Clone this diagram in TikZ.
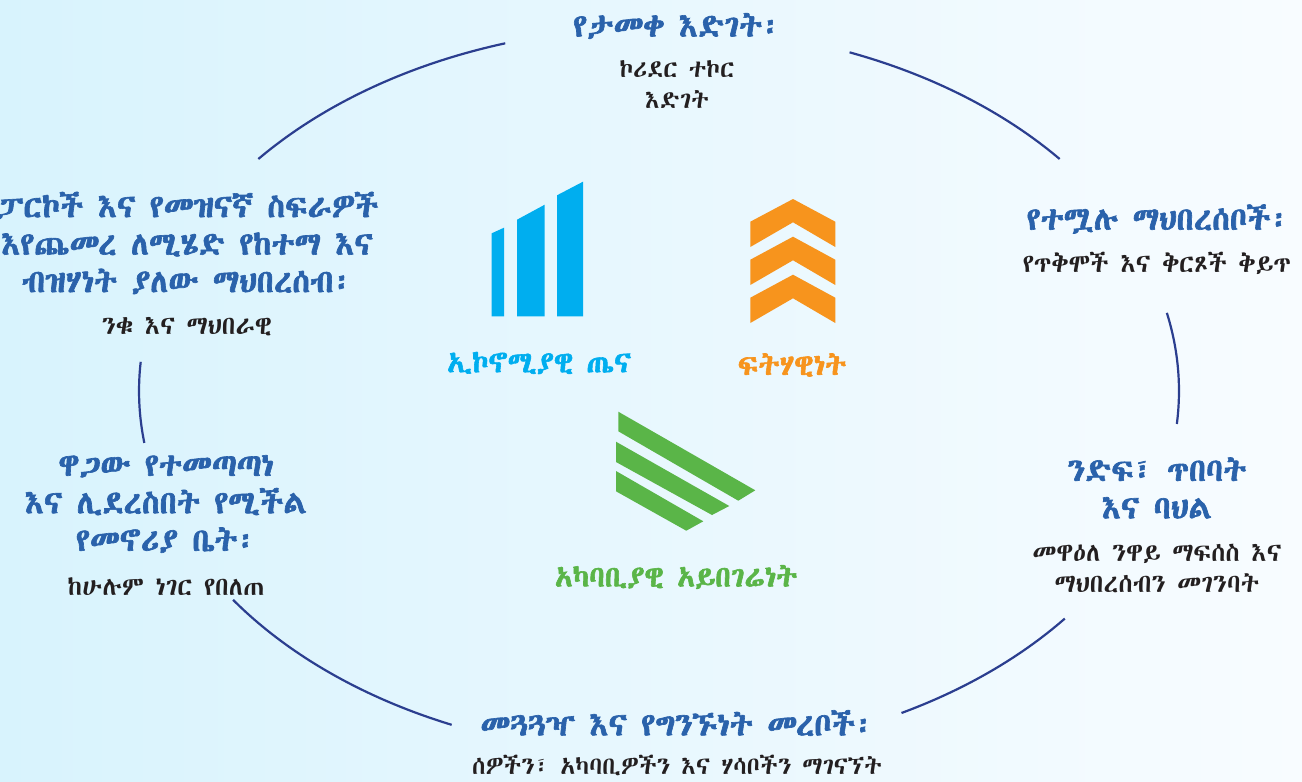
\documentclass[tikz,border=0pt]{standalone}
\usepackage{fontspec}
\newfontfamily\eth{Abyssinica SIL}
\newfontfamily\ethb[FakeBold=2]{Abyssinica SIL}
\definecolor{navy}{HTML}{2B3E8F}
\definecolor{ttl}{HTML}{2A62AB}
\definecolor{bdy}{HTML}{231F20}
\definecolor{cy}{HTML}{00AEEF}
\definecolor{orn}{HTML}{F7941D}
\definecolor{grn}{HTML}{5AB548}
\definecolor{bgl}{HTML}{D8F3FD}
\definecolor{bgr}{HTML}{F8FCFF}
\tikzset{
 ttlnode/.style={text=ttl,align=center,inner sep=0pt,font=\ethb\fontsize{32}{37.5}\selectfont},
 bdynode/.style={text=bdy,align=center,inner sep=0pt,font=\eth\fontsize{25.7}{31}\selectfont},
 bdysmall/.style={bdynode,font=\eth\fontsize{24.5}{31}\selectfont},
 iconlabel/.style={align=center,inner sep=0pt,font=\ethb\fontsize{29.3}{30}\selectfont},
 ring/.style={draw=navy,line width=2.2pt}
}
\newcommand\ringseg[2]{\draw[ring] ([shift={(#1:520 and 364)}]c) arc[start angle=#1,end angle=#2,x radius=520,y radius=364];}
\begin{document}
\begin{tikzpicture}[x=1pt,y=-1pt]
\useasboundingbox (0,0) rectangle (1302,782);
\clip (0,0) rectangle (1302,782);
\shade[left color=bgl,right color=bgr] (0,0) rectangle (1302,782);
\coordinate (c) at (659,391);
\ringseg{-140.4}{-107.2}
\ringseg{-68.5}{-39.6}
\ringseg{-12.4}{5.2}
\ringseg{38.7}{62.2}
\ringseg{113.5}{145}
\ringseg{171.8}{184.6}
% bars
\fill[cy] (491.7,316.3) -- (491.7,233.3) -- (504,227.7) -- (504,316.3) -- cycle;
\fill[cy] (517,316.3) -- (517,219.7) -- (544.7,204.7) -- (544.7,316.3) -- cycle;
\fill[cy] (557,316.3) -- (557,195.3) -- (583,181.7) -- (583,316.3) -- cycle;
% chevrons
\fill[orn] (750.3,221.7) -- (793,199) -- (835.3,221.7) -- (835.3,247) -- (793,222.3) -- (750.3,247) -- cycle;
\fill[orn] (750.3,259.7) -- (793,236.7) -- (835.3,259.7) -- (835.3,285) -- (793,260.3) -- (750.3,285) -- cycle;
\fill[orn] (750.3,297.7) -- (793,274.7) -- (835.3,297.7) -- (835.3,323) -- (793,298.3) -- (750.3,323) -- cycle;
% green stripes
\fill[grn] (618.3,411.7) -- (755.3,490.3) -- (738.3,500.7) -- (618.3,431.3) -- cycle;
\fill[grn] (616,441.7) -- (729.3,506) -- (712,515) -- (616,462) -- cycle;
\fill[grn] (616,471) -- (703.3,521.3) -- (686.3,530.7) -- (616,491.3) -- cycle;
% texts
\node[ttlnode] (t1) at (677,26) {የታመቀ እድገት፡};
\node[bdysmall] (b1) at (677,85) {ኮሪደር ተኮር\\እድገት};
\node[ttlnode] (t2) at (1158,219) {የተሟሉ ማህበረሰቦች፡};
\node[bdynode] (b2) at (1157,263) {የጥቅሞች እና ቅርጾች ቅይጥ};
\node[ttlnode] (t3) at (1157,488) {ንድፍ፣ ጥበባት\\እና ባህል};
\node[bdynode] (b3) at (1157,568) {መዋዕለ ንዋይ ማፍሰስ እና\\ማህበረሰብን መገንባት};
\node[ttlnode] (t4) at (677,723) {መጓጓዣ እና የግንኙነት መረቦች፡};
\node[bdysmall] (b4) at (677,765) {ሰዎችን፣ አካባቢዎችን እና ሃሳቦችን ማገናኘት};
\node[ttlnode] (t5) at (166,504) {ዋጋው የተመጣጣነ\\እና ሊደረስበት የሚችል\\የመኖሪያ ቤት፡};
\node[bdynode] (b5) at (166,587) {ከሁሉም ነገር የበለጠ};
\node[ttlnode] (t6) at (187,243) {ፓርኮች እና የመዝናኛ ስፍራዎች\\እየጨመረ ለሚሄድ የከተማ እና\\ብዝሃነት ያለው ማህበረሰብ፡};
\node[bdynode] (b6) at (187,327) {ንቁ እና ማህበራዊ};
\node[iconlabel,text=cy] (l1) at (539,363) {ኢኮኖሚያዊ ጤና};
\node[iconlabel,text=orn] (l2) at (792,365) {ፍትሃዊነት};
\node[iconlabel,text=grn] (l3) at (676,577) {አካባቢያዊ አይበገሬነት};
\end{tikzpicture}
\end{document}
